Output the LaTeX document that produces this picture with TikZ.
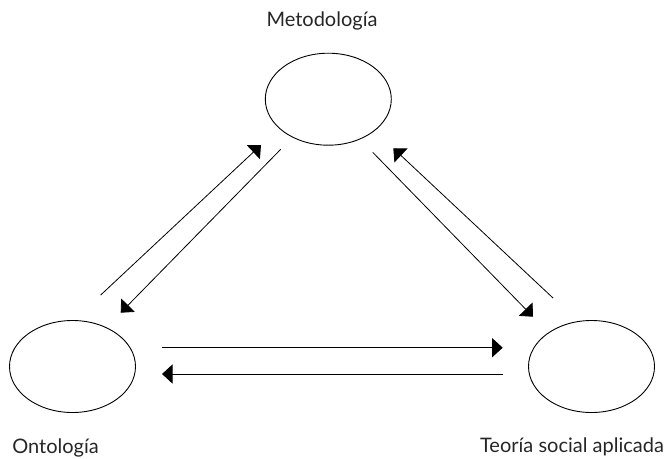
\documentclass[tikz,border=0pt]{standalone}
\usepackage{fontspec}
\setmainfont{Lato}
\usetikzlibrary{shapes.geometric,arrows.meta}
\begin{document}
\begin{tikzpicture}[x=1pt,y=-1pt,
  circ/.style={draw, ellipse, line width=0.9pt, minimum width=126pt, minimum height=92pt, inner sep=0pt},
  lab/.style={anchor=base, inner sep=0pt, font=\fontsize{20}{24}\selectfont, text=black!85},
  conn/.style={line width=0.8pt, -{Triangle[length=10.5pt,width=19pt]}}]
\useasboundingbox (0,0) rectangle (668,458);
\node[circ] (T) at (328.3,99.2) {};
\node[circ] (L) at (72.5,366.5) {};
\node[circ] (R) at (591.5,366.5) {};
\node[lab] (tM) at (322,26.7) {Metodología};
\node[lab] (tO) at (55.5,453) {Ontología};
\node[lab] (tR) at (572,452) {Teoría social aplicada};
% endpoints
\coordinate (l1) at (100.7,295);
\coordinate (t1) at (261,145);
\coordinate (t2) at (280.7,149.3);
\coordinate (l2) at (120.7,312.7);
\coordinate (t3) at (372.7,152.3);
\coordinate (r3) at (533,316.7);
\coordinate (r4) at (553,298);
\coordinate (t4) at (393.3,148.3);
\coordinate (l5) at (162,347.7);
\coordinate (r5) at (502.7,347.7);
\coordinate (r6) at (502.7,374);
\coordinate (l6) at (162,374);
\draw[conn] (l1) -- (t1);
\draw[conn] (t2) -- (l2);
\draw[conn] (t3) -- (r3);
\draw[conn] (r4) -- (t4);
\draw[conn] (l5) -- (r5);
\draw[conn] (r6) -- (l6);
\end{tikzpicture}
\end{document}
